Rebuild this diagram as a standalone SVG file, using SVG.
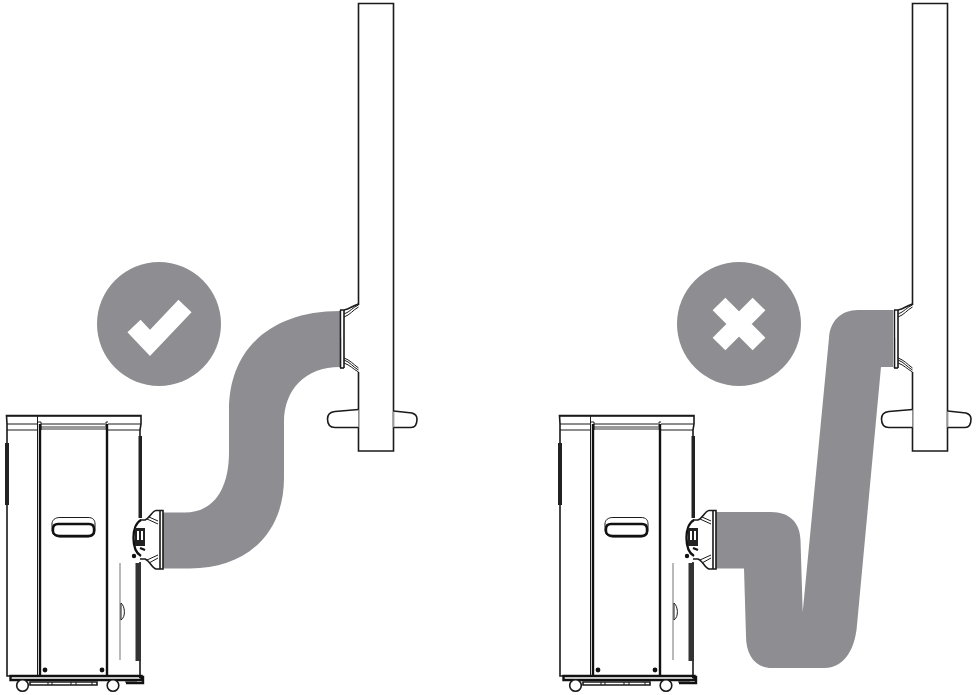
<svg xmlns="http://www.w3.org/2000/svg" width="977" height="695" viewBox="0 0 977 695">
<style>
.duct{fill:#8e8d91}
.badge{fill:#8e8d91}
.l{fill:none;stroke:#1a1a1a;stroke-width:1}
.m{fill:none;stroke:#1a1a1a;stroke-width:1.6}
.h{fill:none;stroke:#111;stroke-width:2.4}
.g{fill:none;stroke:#8a8a8a;stroke-width:1.2}
.w{fill:#fff;stroke:#1a1a1a;stroke-width:1.6}
.d{fill:#111}
</style>
<defs>
<g id="unit">
<path class="w" d="M7 430V424L6.500 415.500H141V424L140 430V676H7Z"/>
<path class="m" d="M6.500 416H141"/>
<path class="l" d="M7 424H38M108 424H141M7 430H38M108 430H140"/>
<path d="M41 426H105V430H41Z" fill="#9a9a9a"/>
<path class="l" d="M41 424H105M37.500 415.500V676M38 422H41V430M108 422H106V430"/>
<path class="h" d="M40 424V676M107 424V676"/>
<path class="l" d="M60 517.500H88C93 517.500 95 520 95 524V530C95 534 93 537 88 537H60C55 537 52 534 52 530V524C52 520 55 517.500 60 517.500Z"/>
<path class="h" d="M58 524H89C93 524 94 526 94 529V531C94 534 92 536 88 536H60C56 536 53 534 53 531V529C53 526 54 524 58 524Z"/>
<path d="M5 443H9V505H5Z" fill="#222"/>
<path d="M138.500 436H142V518H138.500Z" fill="#222"/>
<path d="M135.500 563H141V661H135.500Z" fill="#333"/>
<path class="g" d="M120 563V660"/>
<path class="l" d="M121 603C125 606 126 617 121 620Z" stroke="#666"/>
<circle class="d" cx="134" cy="556" r="2.200"/>
<circle class="d" cx="45" cy="670" r="2.400"/>
<circle class="d" cx="102" cy="670" r="2.400"/>
<path class="h" d="M10.500 676H141.500V680H10.500Z" stroke-width="2"/>
<path class="h" d="M139 677H143V683H126"/>
<path class="m" d="M30 682H97V685H30Z"/>
<path class="l" d="M48 682V685M52 682V685M71 682V685M76 682V685M92 682V685M125 682H137"/>
<circle class="w" cx="22.500" cy="685.500" r="5.800" stroke-width="2.200"/>
<circle class="w" cx="113" cy="685.500" r="5.800" stroke-width="2.200"/>
<path d="M139 518H148V562H139Z" fill="#fff"/>
<path class="m" d="M140 520H145C150 518 152 511 156 510.500H163V569H156C152 568 150 561 145 559H140"/>
<path class="m" d="M160 511V569"/>
<path class="l" d="M147 519 158 524M149 517 158 521M147 560 158 555M149 563 158 558"/>
<path class="h" d="M141 520C131 525 131 550 141 556"/>
<path d="M135 528H145V546H135Z" fill="#222"/>
<path d="M137 531H139V540H137ZM141 531H143V540H141Z" fill="#fff"/>
<path class="h" d="M140 548 145 550"/>
</g>
<g id="wall">
<path class="m" d="M358.500 305V3.500H393.500V451H358.500V372"/>
<path class="w" d="M358.500 409.500 335 411.500C330 412 327.500 415 327.500 419C327.500 425 330 427.500 335 427.500H358.500"/>
<path class="w" d="M393.500 411 412 413C415 414 417 416 417 419C417 425 415 427.500 411 427.500H393.500"/>
<path d="M393.500 412V427" stroke="#999" stroke-width="1.800"/>
<path class="m" d="M340 310H344C350 309 352 306 358.500 304"/>
<path class="m" d="M340 368H344"/>
<path class="l" d="M344 314C350 312 353 307 358.500 305M344 317C350 315 353 310 358.500 307M344 360C350 362 353 367 358.500 370M344 363C350 365 353 369 358.500 372M344 358C350 360 353 364 358.500 368"/>
<path class="m" d="M340.500 310V368M344 310V368"/>
<path d="M342.300 311V338" stroke="#fff" stroke-width="1.200"/>
</g>
</defs>
<g id="connectors">
<path id="duct-good" class="duct" d="M163 512.500H185C213 512.500 229 490 229 452V410C229 350 270 311 340 311V367C305 367 284 390 284 422V478C284 535 245 568.500 190 568.500H163Z"/>
<path id="duct-bad" class="duct" d="M716 512H771C790 512 800 523 800.500 540L802.700 612L829 338C830 321 841 310 858 310H893V367H881L857 625C855 652 842 668 825 668H772C755 668 746 655 746 636L744 568.500H716Z"/>
</g>
<g id="unit-good"><use href="#unit"/></g>
<g id="unit-bad"><use href="#unit" x="553"/></g>
<g id="wall-good"><use href="#wall"/></g>
<g id="wall-bad"><use href="#wall" x="554"/></g>
<g id="badge-check">
<circle class="badge" cx="159" cy="324" r="62"/>
<path d="M134 326 150 343 185 306" fill="none" stroke="#fff" stroke-width="18"/>
</g>
<g id="badge-cross">
<circle class="badge" cx="739" cy="324" r="62"/>
<path d="M719 304 759 344M759 304 719 344" fill="none" stroke="#fff" stroke-width="18"/>
</g>
</svg>
